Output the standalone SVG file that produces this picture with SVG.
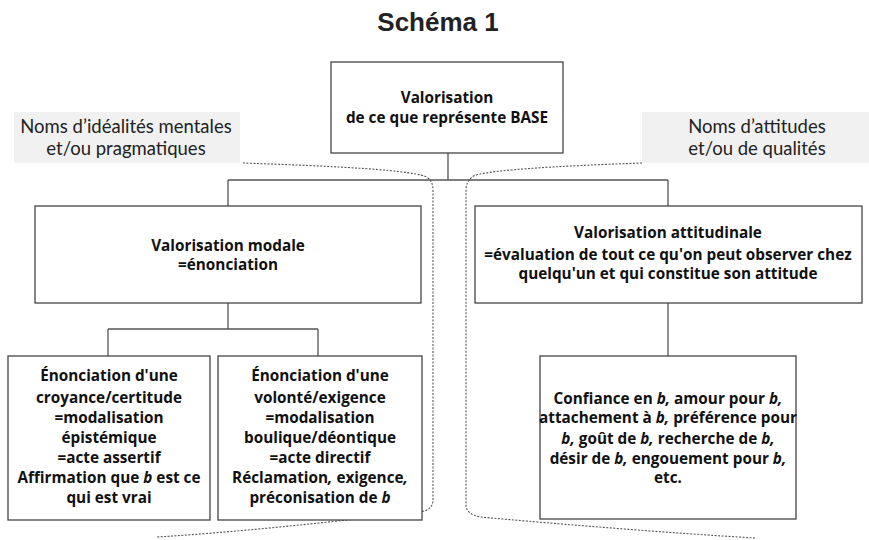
<svg xmlns="http://www.w3.org/2000/svg" width="869" height="540" viewBox="0 0 869 540">
<style>
.box{fill:#fff;stroke:#444;stroke-width:1.3}
.lbl{fill:#f1f1f1}
.t{font-family:"Open Sans",Lato,sans-serif;font-weight:bold;font-size:15.3px;fill:#111;text-anchor:middle}
.l{font-family:Lato,"Open Sans",sans-serif;font-size:18.5px;fill:#222;text-anchor:middle}
.i{font-style:italic}
.c{fill:none;stroke:#555;stroke-width:1.3}
.d{fill:none;stroke:#555;stroke-width:1.1;stroke-dasharray:2 1.5}
</style>
<rect width="869" height="540" fill="#fff"/>
<text x="438" y="31" font-family="'Liberation Sans',Arial,sans-serif" font-weight="bold" font-size="26" fill="#222" text-anchor="middle">Schéma 1</text>
<g id="label-left">
<rect class="lbl" x="14" y="112" width="226" height="51"/>
<text class="l" x="126" y="133">Noms d’idéalités mentales</text>
<text class="l" x="126" y="155">et/ou pragmatiques</text>
</g>
<g id="label-right">
<rect class="lbl" x="642" y="112" width="227" height="51"/>
<text class="l" x="757" y="133">Noms d’attitudes</text>
<text class="l" x="757" y="155">et/ou de qualités</text>
</g>
<g id="connectors">
<path class="c" d="M448 153V180M228 180H668M228 180V206M668 180V206M228 303V329M108 329H318M108 329V356M318 329V356M668 303V356"/>
<path class="d" d="M243 163C330 166 420 170 428 178Q433 182 433 190V500Q433 510 420 512C330 522 240 532 157 537"/>
<path class="d" d="M642 163C560 166 480 170 472 177Q466 182 466 190V505Q466 514 480 517C570 525 670 533 755 538"/>
</g>
<g id="n-top">
<rect class="box" x="331" y="62" width="232" height="91"/>
<text class="t" x="447" y="103">Valorisation</text>
<text class="t" x="447" y="123">de ce que représente BASE</text>
</g>
<g id="n-modale">
<rect class="box" x="35" y="206" width="386" height="97"/>
<text class="t" x="228" y="251">Valorisation modale</text>
<text class="t" x="228" y="270">=énonciation</text>
</g>
<g id="n-attitudinale">
<rect class="box" x="475" y="206" width="387" height="97"/>
<text class="t" x="668" y="238">Valorisation attitudinale</text>
<text class="t" x="668" y="260">=évaluation de tout ce qu'on peut observer chez</text>
<text class="t" x="668" y="279">quelqu'un et qui constitue son attitude</text>
</g>
<g id="n-croyance">
<rect class="box" x="8" y="356" width="202" height="164"/>
<text class="t" x="109" y="381">Énonciation d'une</text>
<text class="t" x="109" y="403">croyance/certitude</text>
<text class="t" x="109" y="423">=modalisation</text>
<text class="t" x="109" y="443">épistémique</text>
<text class="t" x="109" y="463">=acte assertif</text>
<text class="t" x="109" y="483">Affirmation que <tspan class="i">b</tspan> est ce</text>
<text class="t" x="109" y="503">qui est vrai</text>
</g>
<g id="n-volonte">
<rect class="box" x="218" y="356" width="204" height="164"/>
<text class="t" x="320" y="381">Énonciation d'une</text>
<text class="t" x="320" y="403">volonté/exigence</text>
<text class="t" x="320" y="423">=modalisation</text>
<text class="t" x="320" y="443">boulique/déontique</text>
<text class="t" x="320" y="463">=acte directif</text>
<text class="t" x="320" y="483">Réclamation<tspan class="i">,</tspan> exigence<tspan class="i">,</tspan></text>
<text class="t" x="320" y="503">préconisation de <tspan class="i">b</tspan></text>
</g>
<g id="n-confiance">
<rect class="box" x="540" y="356" width="256" height="163"/>
<text class="t" x="668" y="404">Confiance en <tspan class="i">b,</tspan> amour pour <tspan class="i">b,</tspan></text>
<text class="t" x="668" y="423">attachement à <tspan class="i">b,</tspan> préférence pour</text>
<text class="t" x="668" y="444"><tspan class="i">b,</tspan> goût de <tspan class="i">b,</tspan> recherche de <tspan class="i">b,</tspan></text>
<text class="t" x="668" y="464">désir de <tspan class="i">b,</tspan> engouement pour <tspan class="i">b,</tspan></text>
<text class="t" x="668" y="483">etc.</text>
</g>
</svg>
